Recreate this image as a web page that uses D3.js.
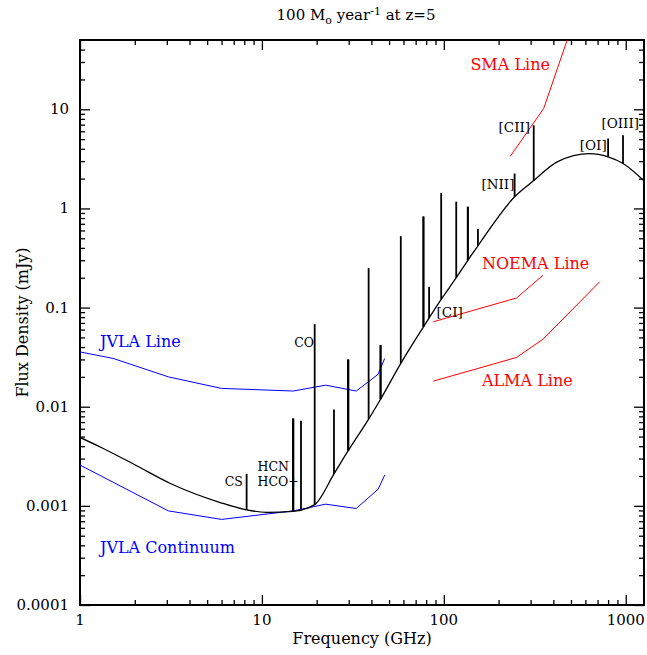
<!DOCTYPE html>
<html>
    <head>
        <meta charset="UTF-8" />
        <title>100 Msun/yr at z=5</title>
        <style>
            body { margin: 0; background: #fff; }
            text { font-family: "DejaVu Serif", serif; }
        </style>
    </head>
    <body>
        <script src="https://d3js.org/d3.v7.min.js"></script>
        <script type="text/javascript">
            // continuum model (frequency GHz, flux mJy)
            var contFreq = [1, 1.3, 2, 3.1, 5.9, 8.24, 10.6, 14.86, 19.5, 24.9, 29.8, 38.6, 44.9, 58, 77.3, 96.7, 117, 135.5, 154, 245, 310, 420, 634, 800, 966, 1260];
            var contFlux = [0.0049, 0.0039, 0.0026, 0.0017, 0.00108, 0.00091, 0.00086, 0.00088, 0.00103, 0.0021, 0.0036, 0.0075, 0.0119, 0.0274, 0.064, 0.121, 0.20, 0.30, 0.42, 1.31, 1.89, 2.95, 3.57, 3.31, 2.84, 1.9];

            // emission lines: frequency, continuum at line, peak
            var lineFreq = [8.24, 14.8, 14.9, 16.4, 19.5, 24.9, 29.7, 29.9, 38.6, 44.8, 45.0, 58, 77.1, 77.4, 83, 96.7, 117, 135.3, 135.7, 154, 245, 312, 800, 966];
            var lineBase = [0.00091, 0.00088, 0.00088, 0.00092, 0.00103, 0.0021, 0.0036, 0.0036, 0.0075, 0.0119, 0.0119, 0.0274, 0.064, 0.064, 0.078, 0.121, 0.20, 0.30, 0.30, 0.42, 1.31, 1.89, 3.31, 2.84];
            var linePeak = [0.0021, 0.0076, 0.0076, 0.0072, 0.068, 0.0094, 0.030, 0.030, 0.25, 0.042, 0.042, 0.525, 0.83, 0.83, 0.162, 1.43, 1.17, 1.04, 1.04, 0.62, 2.25, 6.9, 5.07, 5.47];

            // sensitivity curves
            var jvlaLineFreq = [1, 1.52, 3.06, 6, 14.86, 22.4, 33, 43.5, 47.3];
            var jvlaLineFlux = [0.0357, 0.0307, 0.0200, 0.0153, 0.0144, 0.0165, 0.0144, 0.0212, 0.0307];
            var jvlaContFreq = [1, 3.06, 6, 14.86, 22.4, 33, 43.5, 47.3];
            var jvlaContFlux = [0.00258, 0.00089, 0.00073, 0.00089, 0.00104, 0.00094, 0.00147, 0.00204];
            var noemaFreq = [87.4, 251, 351];
            var noemaFlux = [0.0718, 0.125, 0.212];
            var almaFreq = [87.4, 251, 351, 719];
            var almaFlux = [0.0181, 0.0314, 0.048, 0.182];
            var smaFreq = [232, 354, 480];
            var smaFlux = [3.36, 10.2, 52];

            // molecular line labels (left edge / baseline)
            var molText = ["HCN", "HCO+", "CO"];
            var molFreq = [9.46, 9.46, 15.05];
            var molFlux = [0.00227, 0.0016, 0.0398];
            // CS label sits right-aligned next to its line
            var csFreq = 7.86, csFlux = 0.0016;
            // fine-structure line labels
            var fsText = ["[CI]", "[NII]", "[CII]", "[OI]", "[OIII]"];
            var fsFreq = [91.2, 161, 200, 559, 735];
            var fsFlux = [0.080, 1.57, 5.97, 3.9, 6.46];

            // instrument labels
            var instText = ["JVLA Line", "JVLA Continuum", "SMA Line", "NOEMA Line", "ALMA Line"];
            var instFreq = [1.288, 1.288, 140, 162, 162];
            var instFlux = [0.0404, 0.000335, 25, 0.245, 0.0163];
            var instColor = ["#0000ff", "#0000ff", "#ff0000", "#ff0000", "#ff0000"];

            var xMajor = [1, 10, 100, 1000];
            var yMajor = [0.0001, 0.001, 0.01, 0.1, 1, 10];
            var yMajorText = ["0.0001", "0.001", "0.01", "0.1", "1", "10"];

            var W = 647, H = 655;
            var m = { left: 80, right: 3, top: 40, bottom: 50 };
            var x0 = m.left, x1 = W - m.right, y0 = m.top, y1 = H - m.bottom;

            var svg = d3
                .select("body")
                .append("svg")
                .attr("width", W)
                .attr("height", H);

            var x = d3.scaleLog().domain([1, 1260]).range([x0, x1]);
            var y = d3.scaleLog().domain([0.0001, 50]).range([y1, y0]);

            function minors(lo, hi, max) {
                var out = [];
                for (var d = lo; d < hi; d *= 10) {
                    for (var k = 2; k <= 9; k++) {
                        if (d * k < max) out.push(d * k);
                    }
                }
                return out;
            }
            var xMinor = minors(1, 10000, 1260);
            var yMinor = minors(0.0001, 100, 50);

            svg.append("clipPath")
                .attr("id", "clip")
                .append("rect")
                .attr("x", x0)
                .attr("y", y0)
                .attr("width", x1 - x0)
                .attr("height", y1 - y0);

            // Ticks on all four sides, pointing inwards
            function ticks(axisFn, scale, vals, size, transform) {
                svg.append("g")
                    .attr("transform", transform)
                    .call(axisFn(scale).tickValues(vals).tickSize(size).tickFormat(""))
                    .call(function(g) {
                        g.select(".domain").remove();
                        g.selectAll("line").attr("stroke", "#000").attr("stroke-width", 1.3);
                    });
            }
            ticks(d3.axisBottom, x, xMajor, -10, "translate(0," + y1 + ")");
            ticks(d3.axisBottom, x, xMinor, -5, "translate(0," + y1 + ")");
            ticks(d3.axisTop, x, xMajor, -10, "translate(0," + y0 + ")");
            ticks(d3.axisTop, x, xMinor, -5, "translate(0," + y0 + ")");
            ticks(d3.axisLeft, y, yMajor, -10, "translate(" + x0 + ",0)");
            ticks(d3.axisLeft, y, yMinor, -5, "translate(" + x0 + ",0)");
            ticks(d3.axisRight, y, yMajor, -10, "translate(" + x1 + ",0)");
            ticks(d3.axisRight, y, yMinor, -5, "translate(" + x1 + ",0)");

            svg.append("rect")
                .attr("x", x0)
                .attr("y", y0)
                .attr("width", x1 - x0)
                .attr("height", y1 - y0)
                .attr("fill", "none")
                .attr("stroke", "#000")
                .attr("stroke-width", 2);

            // tick labels
            svg.append("g")
                .selectAll("text")
                .data(xMajor)
                .join("text")
                .attr("x", function(d) { return x(d); })
                .attr("y", y1 + 20)
                .attr("text-anchor", "middle")
                .attr("font-size", 15)
                .text(function(d) { return d; });

            svg.append("g")
                .selectAll("text")
                .data(yMajor)
                .join("text")
                .attr("x", x0 - 11)
                .attr("y", function(d) { return y(d) + 5; })
                .attr("text-anchor", "end")
                .attr("font-size", 15)
                .text(function(d, i) { return yMajorText[i]; });

            // axis titles
            svg.append("text")
                .attr("x", (x0 + x1) / 2)
                .attr("y", 644)
                .attr("text-anchor", "middle")
                .attr("font-size", 16)
                .text("Frequency (GHz)");

            svg.append("text")
                .attr("transform", "translate(28," + (y0 + y1) / 2 + ") rotate(-90)")
                .attr("text-anchor", "middle")
                .attr("font-size", 16)
                .text("Flux Density (mJy)");

            var title = svg.append("text")
                .attr("x", 356)
                .attr("y", 20)
                .attr("text-anchor", "middle")
                .attr("font-size", 15);
            title.append("tspan").text("100 M");
            title.append("tspan").attr("font-size", 11).attr("dy", 4).text("o");
            title.append("tspan").attr("dy", -4).text(" year");
            title.append("tspan").attr("font-size", 11).attr("dy", -5).text("-1");
            title.append("tspan").attr("dy", 5).text(" at z=5");

            var plot = svg.append("g").attr("clip-path", "url(#clip)");

            function curve(fs, vs, color, width, interp) {
                var pts = fs.map(function(f, i) { return [f, vs[i]]; });
                plot.append("path")
                    .datum(pts)
                    .attr("fill", "none")
                    .attr("stroke", color)
                    .attr("stroke-width", width)
                    .attr("d", d3.line()
                        .x(function(d) { return x(d[0]); })
                        .y(function(d) { return y(d[1]); })
                        .curve(interp || d3.curveLinear));
            }

            curve(jvlaLineFreq, jvlaLineFlux, "#0000ff", 1);
            curve(jvlaContFreq, jvlaContFlux, "#0000ff", 1);
            curve(noemaFreq, noemaFlux, "#ff0000", 1);
            curve(almaFreq, almaFlux, "#ff0000", 1);
            curve(smaFreq, smaFlux, "#ff0000", 1);
            curve(contFreq, contFlux, "#000", 1.3, d3.curveMonotoneX);

            plot.append("g")
                .selectAll("line")
                .data(lineFreq)
                .join("line")
                .attr("x1", function(d) { return x(d); })
                .attr("x2", function(d) { return x(d); })
                .attr("y1", function(d, i) { return y(lineBase[i]); })
                .attr("y2", function(d, i) { return y(linePeak[i]); })
                .attr("stroke", "#000")
                .attr("stroke-width", 1.8);

            var mol = svg.append("g")
                .style("font-family", "'Liberation Serif', serif")
                .attr("font-size", 12.5);
            mol.selectAll("text")
                .data(molText)
                .join("text")
                .attr("x", function(d, i) { return x(molFreq[i]); })
                .attr("y", function(d, i) { return y(molFlux[i]); })
                .text(function(d) { return d; });
            mol.append("text")
                .attr("x", x(csFreq))
                .attr("y", y(csFlux))
                .attr("text-anchor", "end")
                .text("CS");

            svg.append("g")
                .style("font-family", "'Liberation Serif', serif")
                .attr("font-size", 13.5)
                .selectAll("text")
                .data(fsText)
                .join("text")
                .attr("x", function(d, i) { return x(fsFreq[i]); })
                .attr("y", function(d, i) { return y(fsFlux[i]); })
                .text(function(d) { return d; });

            svg.append("g")
                .selectAll("text")
                .data(instText)
                .join("text")
                .attr("x", function(d, i) { return x(instFreq[i]); })
                .attr("y", function(d, i) { return y(instFlux[i]); })
                .attr("fill", function(d, i) { return instColor[i]; })
                .attr("font-size", 16)
                .text(function(d) { return d; });
        </script>
    </body>
</html>
